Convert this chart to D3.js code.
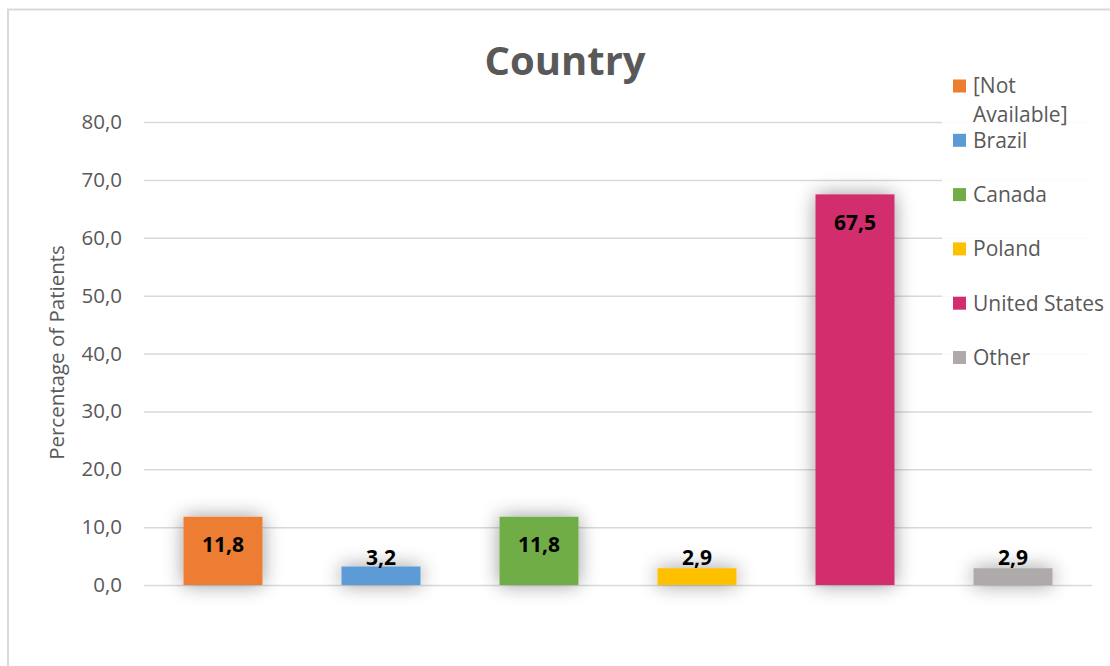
<!DOCTYPE html>
<html>
<head>
<meta charset="utf-8">
<script src="https://cdn.jsdelivr.net/npm/d3@7"></script>
<style>
  html, body { margin: 0; padding: 0; background: #fff; }
  svg { display: block; font-family: "Open Sans", "Noto Sans", sans-serif; }
</style>
</head>
<body>
<svg id="chart" width="1110" height="666"></svg>
<script>
// Share of patients by country (percent)
const categories = ["[Not Available]", "Brazil", "Canada", "Poland", "United States", "Other"];
const values = [11.8, 3.2, 11.8, 2.9, 67.5, 2.9];
const colors = ["#ED7D31", "#5B9BD5", "#70AD47", "#FFC000", "#D22E6E", "#AEAAAA"];
const yTicks = [0, 10, 20, 30, 40, 50, 60, 70, 80];
const legendLines = [["[Not", "Available]"], ["Brazil"], ["Canada"], ["Poland"], ["United States"], ["Other"]];

const svg = d3.select("#chart");
const W = 1110, H = 666;
const margin = { left: 144, right: 18, top: 122, bottom: 81 };
const plotW = W - margin.left - margin.right;   // 948
const plotH = H - margin.top - margin.bottom;   // 463

const fmt = v => d3.format(".1f")(v).replace(".", ",");

// soft glow behind bars
const defs = svg.append("defs");
const f = defs.append("filter").attr("id", "glow")
  .attr("filterUnits", "userSpaceOnUse")
  .attr("x", 0).attr("y", 0).attr("width", W).attr("height", H);
f.append("feGaussianBlur").attr("in", "SourceAlpha").attr("stdDeviation", 10).attr("result", "b");
f.append("feComponentTransfer").attr("in", "b").attr("result", "s")
  .append("feFuncA").attr("type", "linear").attr("slope", 0.4);
const m = f.append("feMerge");
m.append("feMergeNode").attr("in", "s");
m.append("feMergeNode").attr("in", "SourceGraphic");

// chart frame
svg.append("rect").attr("x", 8).attr("y", 9.5).attr("width", W + 20).attr("height", H + 20)
  .attr("fill", "#fff").attr("stroke", "#d9d9d9").attr("stroke-width", 2);

const x = d3.scaleBand().domain(categories)
  .range([margin.left, margin.left + plotW]).paddingInner(0.5).paddingOuter(0.25);
const y = d3.scaleLinear().domain([0, 80]).range([margin.top + plotH, margin.top]);

// gridlines + tick labels
const yAxis = d3.axisLeft(y).tickValues(yTicks).tickFormat(fmt)
  .tickSize(-plotW).tickSizeOuter(0).tickPadding(22);
const gy = svg.append("g").attr("transform", `translate(${margin.left},0)`).call(yAxis);
gy.select(".domain").remove();
gy.selectAll(".tick line").attr("stroke", "#d9d9d9").attr("stroke-width", 1.5);
gy.selectAll(".tick text").attr("fill", "#595959").attr("font-size", 20.5)
  .attr("font-family", "'Open Sans', sans-serif");

// bars
svg.append("g").selectAll("rect").data(categories).join("rect")
  .attr("x", d => x(d))
  .attr("y", (d, i) => y(values[i]))
  .attr("width", x.bandwidth())
  .attr("height", (d, i) => y(0) - y(values[i]))
  .attr("fill", (d, i) => colors[i])
  .attr("filter", "url(#glow)");

// value labels
svg.append("g").selectAll("text").data(categories).join("text")
  .attr("x", d => x(d) + x.bandwidth() / 2)
  .attr("y", (d, i) => Math.min(y(values[i]) + 28, y(0) - 27))
  .attr("dy", "0.35em")
  .attr("text-anchor", "middle")
  .attr("font-size", 21).attr("font-weight", "bold").attr("fill", "#000")
  .text((d, i) => fmt(values[i]));

// title
svg.append("text").attr("x", 565).attr("y", 75).attr("text-anchor", "middle")
  .attr("font-size", 40).attr("font-weight", "bold").attr("fill", "#595959")
  .text("Country");

// y-axis title
svg.append("text")
  .attr("transform", `translate(64,${margin.top + plotH / 2 - 1}) rotate(-90)`)
  .attr("text-anchor", "middle").attr("font-size", 20.5).attr("fill", "#595959")
  .text("Percentage of Patients");

// legend
const lg = svg.append("g");
lg.append("rect").attr("x", 942).attr("y", 70).attr("width", 152).attr("height", 305)
  .attr("fill", "#fff").attr("opacity", 0.88);
const items = lg.selectAll("g.item").data(categories).join("g").attr("class", "item")
  .attr("transform", (d, i) => `translate(953,${86 + i * 54.3})`);
items.append("rect").attr("x", 0).attr("y", -6.5).attr("width", 13).attr("height", 13)
  .attr("fill", (d, i) => colors[i]);
items.append("text").attr("x", 20).attr("font-size", 21).attr("fill", "#595959")
  .each(function (d, i) {
    const t = d3.select(this);
    legendLines[i].forEach((line, j) => {
      t.append("tspan").attr("x", 20).attr("y", j * 29).attr("dy", "0.35em").text(line);
    });
  });
</script>
</body>
</html>
